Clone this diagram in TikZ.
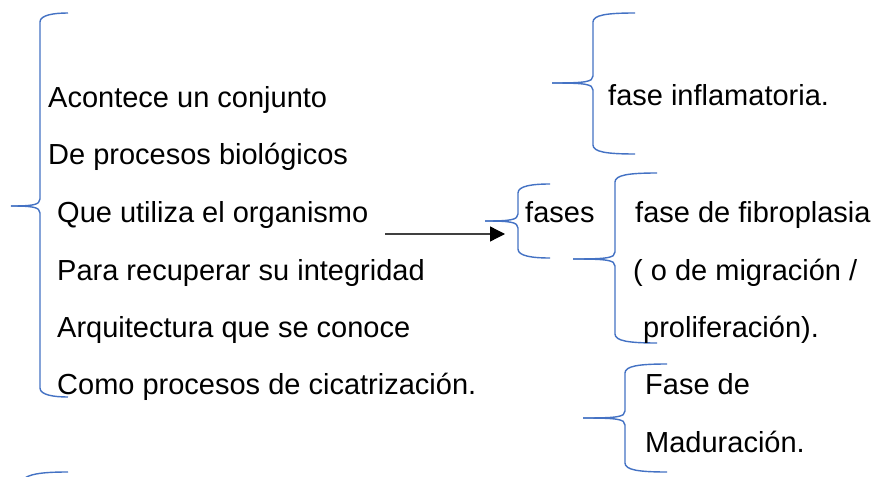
\documentclass[tikz,border=0pt]{standalone}
\usepackage{fontspec}
\setmainfont{Liberation Sans}
\usetikzlibrary{arrows.meta}
\definecolor{braceblue}{HTML}{4472C4}
\definecolor{arrowgray}{HTML}{404040}

% brace: vertical x, top y, middle y, bottom y, tip x, end x
\newcommand{\wordbrace}[6]{%
  \draw[bracestyle] (#6,#2) .. controls (#1+14,#2) and (#1,#2+2) .. (#1,#2+9) -- (#1,#3-7)
    .. controls (#1,#3-1) and (#1-8,#3) .. (#5,#3);
  \draw[bracestyle] (#5,#3) .. controls (#1-8,#3) and (#1,#3+1) .. (#1,#3+7) -- (#1,#4-9)
    .. controls (#1,#4-2) and (#1+14,#4) .. (#6,#4);
}

\begin{document}
\begin{tikzpicture}[x=1pt, y=-1pt,
    bracestyle/.style={braceblue, line width=1.4pt, line join=round},
    txt/.style={anchor=base west, inner sep=0pt, font=\fontsize{29}{35}\selectfont},
    arr/.style={arrowgray, line width=1.3pt, -{Triangle[length=15pt,width=15pt,fill=black,color=black]}}]
    \clip (0,0) rectangle (882,476);
    \fill[white] (0,0) rectangle (882,476);

    % Braces
    \wordbrace{40}{13}{206}{397}{11}{68}
    \wordbrace{593}{13}{83}{154}{552}{635}
    \wordbrace{518}{184}{221}{258}{485}{550}
    \wordbrace{615}{173}{259}{343}{573}{657}
    \wordbrace{625}{364}{418}{472}{583}{667}
    \draw[bracestyle] (68,472) .. controls (30,472) and (20,476) .. (18,490);

    % Left text
    \node[txt] (l1) at (48,107) {Acontece un conjunto};
    \node[txt] (l2) at (48,164) {De procesos biológicos};
    \node[txt] (l3) at (57,222) {Que utiliza el organismo};
    \node[txt] (l4) at (57,280) {Para recuperar su integridad};
    \node[txt] (l5) at (57,337) {Arquitectura que se conoce};
    \node[txt] (l6) at (57,394) {Como procesos de cicatrización.};

    % Right text
    \node[txt] (inflam) at (608,106) {fase inflamatoria.};
    \node[txt] (fases) at (525,222) {fases};
    \node[txt] (fibro1) at (635,222) {fase de fibroplasia};
    \node[txt] (fibro2) at (633,280) {( o de migración /};
    \node[txt] (fibro3) at (643,337) {proliferación).};
    \node[txt] (madur1) at (645,394) {Fase de};
    \node[txt] (madur2) at (645,452) {Maduración.};

    % Arrow
    \coordinate (arrstart) at (385,234);
    \coordinate (arrend) at (505,234);
    \draw[arr] (arrstart) -- (arrend);
\end{tikzpicture}
\end{document}
